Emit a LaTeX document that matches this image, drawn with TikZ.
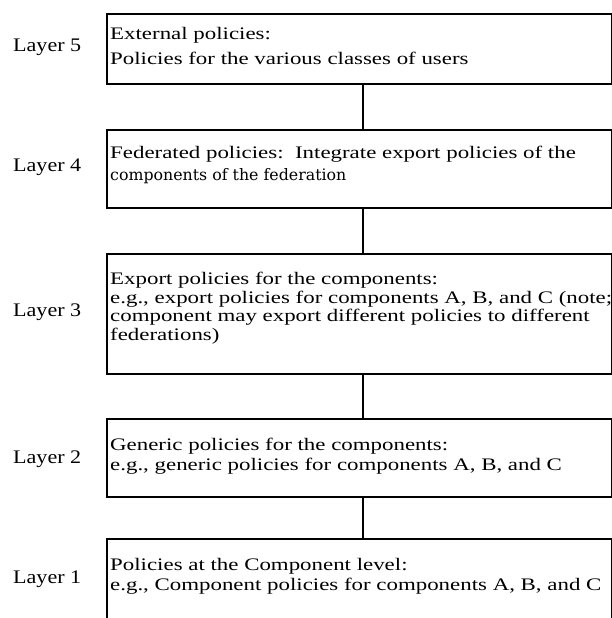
\documentclass[tikz,border=0pt]{standalone}
\usepackage{fontspec}
\setmainfont{Liberation Serif}
\newfontfamily\boxfont[FakeStretch=1.3]{Liberation Serif}
\newfontfamily\layerfont[FakeStretch=1.15]{Liberation Serif}
\newfontfamily\fedfont{DejaVu Serif}
\begin{document}
\begin{tikzpicture}[x=1pt, y=-1pt,
    layerbox/.style={draw, line width=1.6pt, minimum width=505pt, anchor=north west, inner sep=0pt},
    boxtext/.style={anchor=north west, inner sep=0pt, align=left, font=\boxfont\fontsize{17.6}{18.5}\selectfont},
    layerlabel/.style={anchor=base west, inner sep=0pt, font=\layerfont\fontsize{19.2}{20}\selectfont}]
    \useasboundingbox (0,0) rectangle (612,618);
    \clip (0,0) rectangle (612,618);
    \node[layerbox, minimum height=70pt] (b5) at (106,13) {};
    \node[layerbox, minimum height=78pt] (b4) at (106,129) {};
    \node[layerbox, minimum height=120pt] (b3) at (106,253) {};
    \node[layerbox, minimum height=78pt] (b2) at (106,418) {};
    \node[layerbox, minimum height=120pt] (b1) at (106,538) {};
    \foreach \a/\b in {b5/b4, b4/b3, b3/b2, b2/b1}
        \draw[line width=1.6pt] ([xshift=3.5pt]\a.south) -- ([xshift=3.5pt]\b.north);
    \node[boxtext, font=\boxfont\fontsize{17.6}{25}\selectfont] (t5) at (110,27.5) {External policies:\\Policies for the various classes of users};
    \node[boxtext] (t4) at (110,146) {Federated policies:\ \ Integrate export policies of the\\[3pt]{\fedfont\fontsize{15.8}{18}\selectfont components of the federation}};
    \node[boxtext] (t3) at (110,272) {Export policies for the components:\\e.g., export policies for components A, B, and C (note;\\component may export different policies to different\\federations)};
    \node[boxtext, font=\boxfont\fontsize{17.6}{20}\selectfont] (t2) at (110,438) {Generic policies for the components:\\e.g., generic policies for components A, B, and C};
    \node[boxtext, font=\boxfont\fontsize{17.6}{20}\selectfont] (t1) at (110,558) {Policies at the Component level:\\e.g., Component policies for components A, B, and C};
    \node[layerlabel] (l5) at (13,52) {Layer 5};
    \node[layerlabel] (l4) at (13,171) {Layer 4};
    \node[layerlabel] (l3) at (13,316) {Layer 3};
    \node[layerlabel] (l2) at (13,463) {Layer 2};
    \node[layerlabel] (l1) at (13,583) {Layer 1};
\end{tikzpicture}
\end{document}
